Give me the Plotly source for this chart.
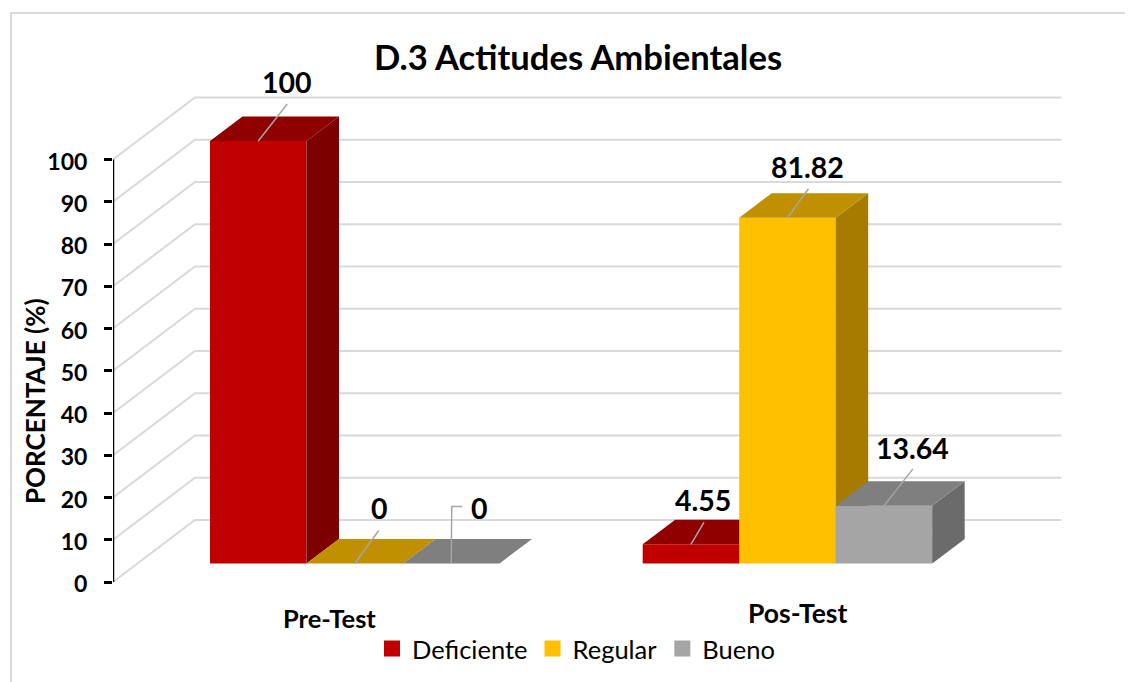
import plotly.graph_objects as go

# ---- data ----
categories = ["Pre-Test", "Pos-Test"]
series_names = ["Deficiente", "Regular", "Bueno"]
deficiente = [100, 4.55]
regular = [0, 81.82]
bueno = [0, 13.64]
y_ticks = [0, 10, 20, 30, 40, 50, 60, 70, 80, 90, 100]
title_text = "D.3 Actitudes Ambientales"
y_title = "PORCENTAJE (%)"

# ---- styles ----
front_colors = ["#C00000", "#FFC000", "#A5A5A5"]
top_colors = ["#900000", "#C09000", "#7F7F7F"]
side_colors = ["#7C0000", "#A67C00", "#6B6B6B"]
GRID = "#D9D9D9"
LEADER = "#A6A6A6"
FONT = "Lato"

# ---- layout geometry (x axis is in page pixels; the page has an 8px body margin) ----
PAGE_W, PAGE_H = 1133, 682
OFF = 8
W, H = PAGE_W - OFF, PAGE_H - OFF
AX_LEFT = 113
Y0_PX, UNIT = 582.0, 4.225
WALL_DX, WALL_DV = 82, 14.67
WALL_RIGHT = 1061.5
BAR_BASE = 4.38
BAR_W = 96.5
DEPTH_DX, DEPTH_DV = 32.5, 5.8
GROUP_LEFT = [210, 642.7]


def v(px):
    return (Y0_PX - px) / UNIT


def px_x(px):
    return (px - AX_LEFT) / (PAGE_W - AX_LEFT)


def px_y(py):
    return 1 - (py - OFF) / H


y_range = [v(PAGE_H), v(OFF)]
x_range = [AX_LEFT, PAGE_W]
all_values = [deficiente, regular, bueno]

fig = go.Figure()

# back wall, side wall and axis line
for t in y_ticks:
    fig.add_trace(go.Scatter(
        x=[AX_LEFT, AX_LEFT + WALL_DX, WALL_RIGHT],
        y=[t, t + WALL_DV, t + WALL_DV],
        mode="lines", line=dict(color=GRID, width=2),
        showlegend=False, hoverinfo="skip"))
fig.add_trace(go.Scatter(
    x=[AX_LEFT, AX_LEFT], y=[y_ticks[0], y_ticks[-1]],
    mode="lines", line=dict(color="black", width=2.5),
    showlegend=False, hoverinfo="skip", cliponaxis=False))

# one overlaid axis pair per series so that each front face covers the previous sides
for s, (name, vals) in enumerate(zip(series_names, all_values)):
    n = s + 2
    xa, ya = f"x{n}", f"y{n}"
    lefts = [g + s * BAR_W for g in GROUP_LEFT]
    for left, val in zip(lefts, vals):
        right = left + BAR_W
        top = BAR_BASE + val
        if val > 0:
            fig.add_trace(go.Scatter(
                x=[right, right + DEPTH_DX, right + DEPTH_DX, right, right],
                y=[BAR_BASE, BAR_BASE + DEPTH_DV, top + DEPTH_DV, top, BAR_BASE],
                mode="lines", fill="toself", fillcolor=side_colors[s], line=dict(width=0),
                showlegend=False, hoverinfo="skip", xaxis=xa, yaxis=ya))
        fig.add_trace(go.Scatter(
            x=[left, right, right + DEPTH_DX, left + DEPTH_DX, left],
            y=[top, top, top + DEPTH_DV, top + DEPTH_DV, top],
            mode="lines", fill="toself", fillcolor=top_colors[s], line=dict(width=0),
            showlegend=False, hoverinfo="skip", xaxis=xa, yaxis=ya))
    fig.add_trace(go.Bar(
        x=[l + BAR_W / 2 for l in lefts], y=vals, base=BAR_BASE, width=BAR_W,
        name=name, marker=dict(color=front_colors[s], line=dict(width=0)),
        showlegend=False, legendgroup=name, xaxis=xa, yaxis=ya))
    # legend entry
    fig.add_trace(go.Scatter(
        x=[None], y=[None], mode="markers", name=name, legendgroup=name,
        marker=dict(symbol="square", size=16, color=front_colors[s]),
        xaxis=xa, yaxis=ya))

# leader lines and data labels: (series, group, leader pixel offsets, label offset)
LAST = dict(xaxis="x4", yaxis="y4")
label_specs = [
    (0, 0, [(0, 0), (29, 37)], (29, 59)),
    (1, 0, [(0, 0), (24, 33)], (25, 55)),
    (2, 0, [(0, 0), (0.5, 57), (11, 57)], (28, 55)),
    (0, 1, [(0, 0), (13, 22)], (12, 44)),
    (1, 1, [(0, 0), (21, 29)], (20, 51)),
    (2, 1, [(0, 0), (29, 37)], (29, 58)),
]
annotations = []
for s, g, leader, lab in label_specs:
    val = all_values[s][g]
    cx = GROUP_LEFT[g] + (s + 0.5) * BAR_W
    top = BAR_BASE + val
    fig.add_trace(go.Scatter(
        x=[cx + p[0] for p in leader], y=[top + p[1] / UNIT for p in leader],
        mode="lines", line=dict(color=LEADER, width=1.5),
        showlegend=False, hoverinfo="skip", **LAST))
    annotations.append(dict(
        x=cx + lab[0], y=top + lab[1] / UNIT, xref="x4", yref="y4",
        text=f"{val:g}", showarrow=False, xanchor="center", yanchor="middle",
        font=dict(family=FONT, size=28.5, color="black", weight="bold")))

# category labels
for cat, px, py, size in zip(categories, [329, 797], [618, 613], [25.5, 26.5]):
    annotations.append(dict(
        x=px_x(px), y=px_y(py), xref="paper", yref="paper", text=cat,
        showarrow=False, xanchor="center", yanchor="middle",
        font=dict(family=FONT, size=size, color="black", weight="bold")))

fig.update_layout(
    width=W, height=H, autosize=False,
    margin=dict(l=AX_LEFT - OFF, r=0, t=0, b=0),
    paper_bgcolor="white", plot_bgcolor="rgba(0,0,0,0)",
    barmode="overlay",
    title=dict(text=title_text, x=px_x(578), y=px_y(58), xref="paper", yref="container",
               xanchor="center", yanchor="middle",
               font=dict(family=FONT, size=34.6, color="black", weight="bold")),
    xaxis=dict(range=x_range, visible=False, fixedrange=True),
    yaxis=dict(range=y_range, tickmode="array", tickvals=y_ticks, showgrid=False,
               zeroline=False, showline=False, ticks="outside", ticklen=8, tickwidth=2.5,
               tickcolor="black", ticklabelstandoff=12, ticklabelshift=2,
               tickfont=dict(family=FONT, size=23, color="black", weight="bold"),
               fixedrange=True),
    legend=dict(orientation="h", x=px_x(372), y=px_y(649), xanchor="left", yanchor="middle",
                itemsizing="trace", traceorder="normal", bgcolor="rgba(0,0,0,0)",
                font=dict(family=FONT, size=25.5, color="black")),
    annotations=annotations + [dict(
        x=px_x(35), y=px_y(401), xref="paper", yref="paper", text=y_title,
        textangle=-90, showarrow=False, xanchor="center", yanchor="middle",
        font=dict(family=FONT, size=26, color="black", weight="bold"))],
    shapes=[dict(type="path", xref="paper", yref="paper",
                 path=f"M {px_x(11)} {px_y(PAGE_H)} L {px_x(11)} {px_y(13)} L {px_x(PAGE_W)} {px_y(13)}",
                 line=dict(color=GRID, width=2))],
)
for n in (2, 3, 4):
    fig.update_layout({
        f"xaxis{n}": dict(range=x_range, visible=False, overlaying="x", fixedrange=True),
        f"yaxis{n}": dict(range=y_range, visible=False, overlaying="y", fixedrange=True),
    })

fig.write_html("out.html")
